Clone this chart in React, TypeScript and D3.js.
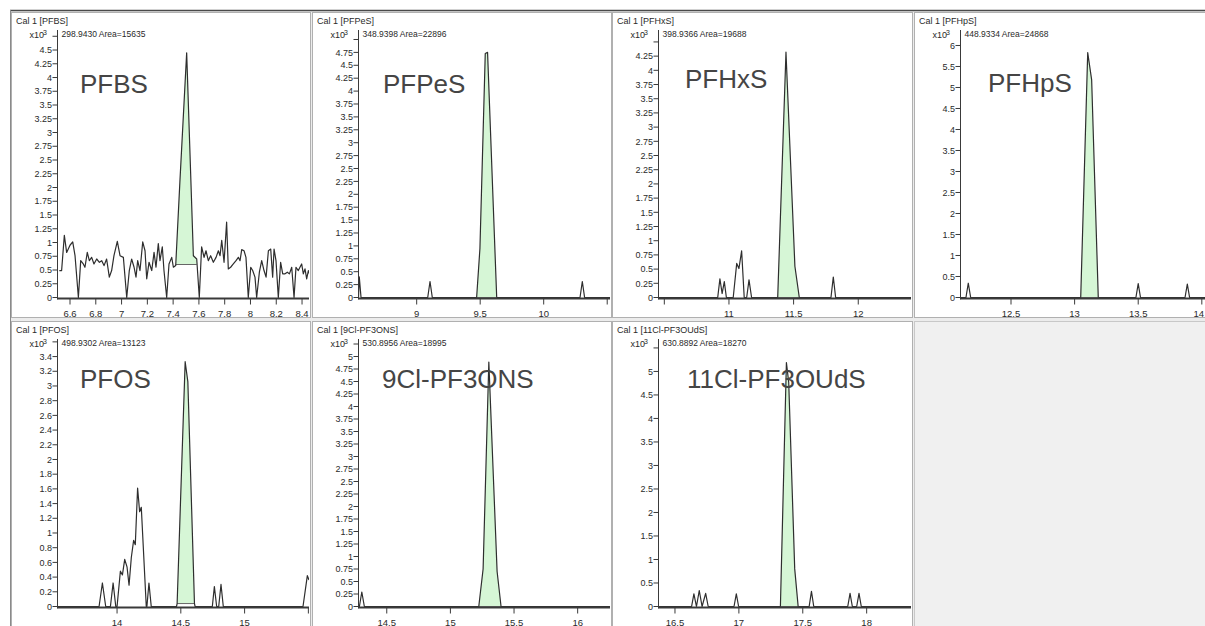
import React from "react";
import * as d3 from "d3";

type Pt = [number, number];

// ---- traces: [retention time (min), intensity (x10^3 counts)] ----
const PFBS_TRACE: Pt[] = [
  [6.517, 0.49], [6.535, 0.49], [6.556, 1.13], [6.574, 0.82], [6.6, 0.95], [6.621, 1.01], [6.639, 0.76], [6.665, 0],
  [6.683, 0.67], [6.703, 0.61], [6.716, 0.55], [6.734, 0.82], [6.75, 0.67], [6.768, 0.73], [6.786, 0.61], [6.807, 0.7],
  [6.828, 0.64], [6.846, 0.67], [6.864, 0.58], [6.884, 0.7], [6.905, 0.37], [6.923, 0.49], [6.941, 0.76], [6.967, 1.02],
  [6.988, 0.76], [7.014, 0.73], [7.04, 0], [7.06, 0.49], [7.078, 0.7], [7.097, 0.55], [7.112, 0.37], [7.125, 0.67],
  [7.143, 0.49], [7.164, 1.01], [7.182, 0.85], [7.195, 0.34], [7.213, 0.64], [7.234, 0.49], [7.252, 0.82], [7.267, 0.55],
  [7.285, 0.98], [7.298, 0.67], [7.316, 0.92], [7.329, 0.49], [7.35, 0], [7.368, 0.61], [7.389, 0.73], [7.402, 0.55],
  [7.42, 0.58], [7.453, 2.13], [7.505, 4.45], [7.557, 0.76], [7.583, 0.7], [7.603, 0], [7.621, 0.92], [7.64, 0.73],
  [7.655, 0.85], [7.673, 0.67], [7.691, 0.76], [7.712, 0.64], [7.733, 0.73], [7.751, 0.85], [7.764, 0.76], [7.777, 1.04],
  [7.795, 0.64], [7.815, 1.37], [7.828, 0.52], [7.846, 0.55], [7.867, 0.61], [7.888, 0.67], [7.906, 0.73], [7.919, 0.67],
  [7.932, 0.87], [7.95, 0.85], [7.965, 0.73], [7.983, 0], [8.002, 0.55], [8.017, 0.49], [8.035, 0.37], [8.048, 0],
  [8.069, 0.46], [8.087, 0.67], [8.105, 0.49], [8.121, 0.37], [8.139, 0.85], [8.157, 0.88], [8.172, 0.37], [8.183, 0.88],
  [8.198, 0.67], [8.216, 0], [8.234, 0.64], [8.25, 0.43], [8.268, 0.43], [8.286, 0.46], [8.302, 0.43], [8.32, 0.55],
  [8.338, 0], [8.353, 0.55], [8.371, 0.49], [8.384, 0.55], [8.397, 0.61], [8.41, 0.43], [8.423, 0.52], [8.436, 0.34],
  [8.449, 0.49], [8.462, 0.4],
];

const PFPES_TRACE: Pt[] = [
  [8.542, 0], [8.548, 0.4], [8.562, 0], [9.087, 0], [9.105, 0.31], [9.123, 0], [9.472, 0], [9.498, 0.95],
  [9.54, 4.73], [9.558, 4.75], [9.63, 0], [10.286, 0], [10.304, 0.31], [10.322, 0], [10.53, 0],
];

const PFHXS_TRACE: Pt[] = [
  [10.455, 0], [10.913, 0], [10.93, 0.33], [10.947, 0.07], [10.964, 0.28], [10.98, 0], [11.033, 0], [11.06, 0.6],
  [11.077, 0.51], [11.098, 0.82], [11.118, 0], [11.137, 0], [11.155, 0.31], [11.175, 0], [11.377, 0], [11.441, 4.32],
  [11.51, 0.55], [11.544, 0], [11.789, 0], [11.807, 0.36], [11.825, 0], [12.42, 0],
];

const PFHPS_TRACE: Pt[] = [
  [12.103, 0], [12.146, 0], [12.164, 0.34], [12.183, 0], [13.048, 0], [13.103, 5.83], [13.134, 5.18], [13.186, 0],
  [13.482, 0], [13.5, 0.33], [13.518, 0], [13.868, 0], [13.886, 0.32], [13.904, 0], [14.09, 0],
];

const PFOS_TRACE: Pt[] = [
  [13.533, 0], [13.859, 0], [13.885, 0.32], [13.911, 0], [13.948, 0], [13.969, 0.32], [13.99, 0], [14.0, 0],
  [14.026, 0.48], [14.042, 0.43], [14.06, 0.64], [14.078, 0.54], [14.094, 0.29], [14.112, 0.67], [14.13, 0.9],
  [14.143, 0.84], [14.161, 1.61], [14.177, 1.29], [14.19, 1.35], [14.229, 0], [14.234, 0], [14.25, 0.32], [14.268, 0],
  [14.466, 0], [14.471, 0.04], [14.534, 3.33], [14.555, 3.06], [14.607, 0.04], [14.612, 0], [14.747, 0], [14.763, 0.27],
  [14.781, 0], [14.797, 0], [14.815, 0.3], [14.833, 0], [15.458, 0], [15.492, 0.42], [15.505, 0.36],
];

const CL9_TRACE: Pt[] = [
  [14.278, 0], [14.285, 0], [14.304, 0.29], [14.324, 0], [15.223, 0], [15.257, 0.75], [15.302, 4.89], [15.367, 0.7],
  [15.398, 0], [16.26, 0],
];

const CL11_TRACE: Pt[] = [
  [16.371, 0], [16.63, 0], [16.648, 0.27], [16.668, 0], [16.69, 0.34], [16.712, 0], [16.74, 0.28], [16.76, 0],
  [16.962, 0], [16.98, 0.27], [16.998, 0], [17.325, 0], [17.372, 5.19], [17.39, 4.77], [17.437, 0.8], [17.464, 0],
  [17.55, 0], [17.568, 0.32], [17.586, 0], [17.852, 0], [17.87, 0.28], [17.888, 0], [17.922, 0], [17.94, 0.28],
  [17.958, 0], [18.35, 0],
];

// ---- tick labels ----
const PFBS_Y = ["0", "0.25", "0.5", "0.75", "1", "1.25", "1.5", "1.75", "2", "2.25", "2.5", "2.75", "3", "3.25", "3.5", "3.75", "4", "4.25", "4.5", "4.75"];
const PFPES_Y = ["0", "0.25", "0.5", "0.75", "1", "1.25", "1.5", "1.75", "2", "2.25", "2.5", "2.75", "3", "3.25", "3.5", "3.75", "4", "4.25", "4.5", "4.75", "5"];
const PFHXS_Y = ["0", "0.25", "0.5", "0.75", "1", "1.25", "1.5", "1.75", "2", "2.25", "2.5", "2.75", "3", "3.25", "3.5", "3.75", "4", "4.25", "4.5"];
const PFHPS_Y = ["0", "0.5", "1", "1.5", "2", "2.5", "3", "3.5", "4", "4.5", "5", "5.5", "6"];
const PFOS_Y = ["0", "0.2", "0.4", "0.6", "0.8", "1", "1.2", "1.4", "1.6", "1.8", "2", "2.2", "2.4", "2.6", "2.8", "3", "3.2", "3.4", "3.6"];
const CL9_Y = ["0", "0.25", "0.5", "0.75", "1", "1.25", "1.5", "1.75", "2", "2.25", "2.5", "2.75", "3", "3.25", "3.5", "3.75", "4", "4.25", "4.5", "4.75", "5", "5.25"];
const CL11_Y = ["0", "0.5", "1", "1.5", "2", "2.5", "3", "3.5", "4", "4.5", "5", "5.5"];

const PFBS_X = ["6.6", "6.8", "7", "7.2", "7.4", "7.6", "7.8", "8", "8.2", "8.4"];
const PFPES_X = ["9", "9.5", "10"];
const PFPES_XM = ["10.5"];
const PFHXS_X = ["11", "11.5", "12"];
const PFHXS_XM = ["10.5"];
const PFHPS_X = ["12.5", "13", "13.5", "14"];
const PFOS_X = ["14", "14.5", "15"];
const PFOS_XM = ["15.5"];
const CL9_X = ["14.5", "15", "15.5", "16"];
const CL11_X = ["16.5", "17", "17.5", "18"];

const NAMES = ["PFBS", "PFPeS", "PFHxS", "PFHpS", "PFOS", "9Cl-PF3ONS", "11Cl-PF3OUdS"];
const TITLES = ["Cal 1 [PFBS]", "Cal 1 [PFPeS]", "Cal 1 [PFHxS]", "Cal 1 [PFHpS]", "Cal 1 [PFOS]", "Cal 1 [9Cl-PF3ONS]", "Cal 1 [11Cl-PF3OUdS]"];
const INFOS = ["298.9430 Area=15635", "348.9398 Area=22896", "398.9366 Area=19688", "448.9334 Area=24868", "498.9302 Area=13123", "530.8956 Area=18995", "630.8892 Area=18270"];
const PEAK_WINDOWS: Pt[] = [[7.42, 7.583], [9.472, 9.63], [11.377, 11.544], [13.048, 13.186], [14.471, 14.607], [15.223, 15.398], [17.325, 17.464]];
const PEAK_BASES = [0.6, 0, 0, 0, 0.04, 0, 0];
const X_DOMAINS: Pt[] = [[6.503, 8.454], [8.542, 10.522], [10.455, 12.408], [12.103, 14.08], [13.533, 15.505], [14.278, 16.254], [16.371, 18.347]];
const Y_MAX = [4.864, 5.184, 4.71, 6.369, 3.639, 5.35, 5.69];

// ---- layout ----
const W = 1205, H = 626;
const COL_X = [11, 312, 612, 914];
const COL_W = [300, 300, 301, 300];
const ROW_Y = [12, 321];
const ROW_H = [306, 306];
const LABEL_POS: Pt[] = [[80, 93], [383, 93], [685, 88], [988, 92], [80, 388], [382, 388], [687, 388]];

const TRACES = [PFBS_TRACE, PFPES_TRACE, PFHXS_TRACE, PFHPS_TRACE, PFOS_TRACE, CL9_TRACE, CL11_TRACE];
const YTICKS = [PFBS_Y, PFPES_Y, PFHXS_Y, PFHPS_Y, PFOS_Y, CL9_Y, CL11_Y];
const XTICKS = [PFBS_X, PFPES_X, PFHXS_X, PFHPS_X, PFOS_X, CL9_X, CL11_X];
const XMINOR = [[], PFPES_XM, PFHXS_XM, [], PFOS_XM, [], []] as string[][];

const SMALL = "'Liberation Sans', Arial, sans-serif";

function Panel({ i }: { i: number }) {
  const col = i % 4, row = Math.floor(i / 4);
  const x0 = COL_X[col], y0 = ROW_Y[row], w = COL_W[col], h = ROW_H[row];
  const axisX = x0 + 46.5, axisEnd = x0 + w - 2;
  const zeroY = y0 + 285.5, axisTop = y0 + 18;
  const xs = d3.scaleLinear().domain(X_DOMAINS[i]).range([axisX, axisEnd]);
  const ys = d3.scaleLinear().domain([0, Y_MAX[i]]).range([zeroY, axisTop]);
  const trace = TRACES[i];
  const [p0, p1] = PEAK_WINDOWS[i];
  const base = PEAK_BASES[i];
  const peakPts = trace.filter((d) => d[0] >= p0 - 1e-9 && d[0] <= p1 + 1e-9);
  const line = d3.line<Pt>().x((d) => xs(d[0])).y((d) => ys(d[1]));
  const area = d3.area<Pt>().x((d) => xs(d[0])).y0(ys(base)).y1((d) => ys(d[1]));
  const clipId = `clip${i}`;
  const axisColor = "#3a3a3a";
  const textColor = "#2a2a2a";
  return (
    <g>
      <defs>
        <clipPath id={clipId}>
          <rect x={axisX} y={y0} width={axisEnd - axisX} height={h} />
        </clipPath>
        <clipPath id={clipId + "p"}>
          <rect x={x0} y={y0} width={w} height={h} />
        </clipPath>
      </defs>
      <rect x={x0 + 0.5} y={y0 + 0.5} width={w - 1} height={h - 1} fill="#ffffff" stroke="#b0b0b0" strokeWidth={1} />
      <g clipPath={`url(#${clipId}p)`}>
        <text x={x0 + 5} y={y0 + 11.5} fontFamily={SMALL} fontSize={9} fill={textColor}>{TITLES[i]}</text>
        <text x={axisX - 28} y={y0 + 26} fontFamily={SMALL} fontSize={9} fill={textColor}>x10</text>
        <text x={axisX - 14.5} y={y0 + 22.5} fontFamily={SMALL} fontSize={7} fill={textColor}>3</text>
        <text x={axisX + 4} y={y0 + 24.5} fontFamily={SMALL} fontSize={8.5} fill={textColor}>{INFOS[i]}</text>
        <g clipPath={`url(#${clipId})`}>
          <path d={area(peakPts) || ""} fill="#d6f6d6" stroke="none" />
          <line x1={xs(p0)} x2={xs(p1)} y1={ys(base)} y2={ys(base)} stroke="#666" strokeWidth={1} />
          <path d={line(trace) || ""} fill="none" stroke="#2e2e2e" strokeWidth={1.2} strokeLinejoin="round" />
        </g>
        <text x={LABEL_POS[i][0]} y={LABEL_POS[i][1]} fontFamily="'Liberation Sans', Arial, sans-serif" fontSize={26} fill="#454545">{NAMES[i]}</text>
        {/* y axis */}
        <line x1={axisX} x2={axisX} y1={axisTop} y2={zeroY + 2} stroke={axisColor} strokeWidth={1} />
        {YTICKS[i].map((s) => {
          const y = ys(+s);
          return (
            <g key={"y" + s}>
              <line x1={axisX - 5} x2={axisX} y1={y} y2={y} stroke={axisColor} strokeWidth={1} />
              {y - axisTop > 12 && (
                <text x={axisX - 5.5} y={y + 3.2} textAnchor="end" fontFamily={SMALL} fontSize={9} fill={textColor}>{s}</text>
              )}
            </g>
          );
        })}
        {/* x axis */}
        <line x1={axisX} x2={axisEnd} y1={zeroY + 1} y2={zeroY + 1} stroke={axisColor} strokeWidth={2} />
        {XTICKS[i].map((s) => {
          const x = xs(+s);
          const nearEdge = x > W - 8;
          return (
            <g key={"x" + s}>
              <line x1={x} x2={x} y1={zeroY + 1} y2={zeroY + 7} stroke={axisColor} strokeWidth={1} />
              <text x={nearEdge ? W - 1 : x} y={zeroY + 19} textAnchor={nearEdge ? "end" : "middle"} fontFamily={SMALL} fontSize={9.5} fill={textColor}>{s}</text>
            </g>
          );
        })}
        {XMINOR[i].map((s) => {
          const x = xs(+s);
          return <line key={"m" + s} x1={x} x2={x} y1={zeroY + 1} y2={zeroY + 7} stroke={axisColor} strokeWidth={1} />;
        })}
      </g>
    </g>
  );
}

export default function App() {
  return (
    <svg width={W} height={H} style={{ position: "absolute", left: 0, top: 0, display: "block" }}>
      <rect x={0} y={0} width={W} height={H} fill="#ffffff" />
      <rect x={10} y={10} width={W - 10} height={H - 10} fill="#ececec" />
      {NAMES.map((_, i) => (
        <Panel key={i} i={i} />
      ))}
      <rect x={914.5} y={321.5} width={300} height={310} fill="#f0f0f0" stroke="#c8c8c8" />
      <line x1={10} x2={W} y1={10.5} y2={10.5} stroke="#4a4a4a" strokeWidth={1.5} />
      <line x1={10.5} x2={10.5} y1={10} y2={H} stroke="#8a8a8a" strokeWidth={1} />
    </svg>
  );
}
